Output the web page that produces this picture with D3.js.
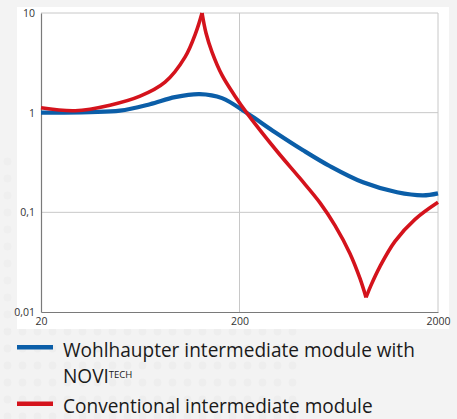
<!DOCTYPE html>
<html>
<head>
<meta charset="utf-8">
<script src="https://cdn.jsdelivr.net/npm/d3@7"></script>
<style>
html,body{margin:0;padding:0;background:#f3f3f3;}
svg{display:block;}
</style>
</head>
<body>
<svg id="chart" width="457" height="419"></svg>
<script>
// ---- data ----
const xTicks = [20, 200, 2000];
const xTickLabels = ["20", "200", "2000"];
const yTicks = [0.01, 0.1, 1, 10];
const yTickLabels = ["0,01", "0,1", "1", "10"];

const blueFreq = [20, 35.3, 50, 70.8, 94.6, 126, 163.3, 218, 302, 418, 572, 838, 1244, 1680, 2000];
const blueVal  = [1.0, 1.012, 1.047, 1.217, 1.431, 1.534, 1.399, 0.99, 0.637, 0.42, 0.29, 0.200, 0.159, 0.148, 0.155];

const redFreq = [20, 29.7, 44.5, 63.1, 84.3, 106.3, 120.8, 129.5,
                 135.6, 145.4, 163.3, 189.9, 218, 309, 403, 509, 605, 720, 809, 868,
                 919, 1021, 1214, 1532, 2000];
const redVal  = [1.12, 1.047, 1.19, 1.465, 2.025, 3.61, 6.44, 10,
                 6.30, 4.06, 2.38, 1.465, 0.99, 0.41, 0.22, 0.1246, 0.074, 0.0387, 0.0217, 0.014,
                 0.0185, 0.0287, 0.0511, 0.085, 0.126];

const seriesNames = ["Wohlhaupter intermediate module with", "Conventional intermediate module"];
const seriesColors = ["#0b5ea8", "#d4131c"];

// ---- drawing ----
const svg = d3.select("#chart");
const W = 457, H = 419;

// faint dotted background pattern
const defs = svg.append("defs");
const pat = defs.append("pattern").attr("id", "dots").attr("width", 15).attr("height", 17)
  .attr("patternUnits", "userSpaceOnUse");
pat.append("circle").attr("cx", 7.5).attr("cy", 8.5).attr("r", 4).attr("fill", "#ebebeb");
svg.append("rect").attr("width", W).attr("height", H).attr("fill", "#f3f3f3");
svg.append("rect").attr("x", 0).attr("y", 329).attr("width", 300).attr("height", 90).attr("fill", "url(#dots)").attr("opacity", 0.6);
svg.append("rect").attr("x", 0).attr("y", 150).attr("width", 17).attr("height", 180).attr("fill", "url(#dots)").attr("opacity", 0.5);

// white panel
svg.append("rect").attr("x", 17).attr("y", 7).attr("width", 432).attr("height", 322).attr("fill", "#ffffff");

const x = d3.scaleLog().domain([20, 2000]).range([41, 438]);
const y = d3.scaleLog().domain([0.01, 10]).range([312, 13]);

// grid lines
const grid = svg.append("g");
grid.selectAll("line.h").data(yTicks.filter(v => v > 0.01)).join("line")
  .attr("x1", x(20)).attr("x2", x(2000))
  .attr("y1", d => y(d)).attr("y2", d => y(d))
  .attr("stroke", "#c8c8c8").attr("stroke-width", 1);
grid.selectAll("line.v").data(xTicks.filter(v => v > 20)).join("line")
  .attr("y1", y(10)).attr("y2", y(0.01))
  .attr("x1", d => x(d)).attr("x2", d => x(d))
  .attr("stroke", "#c8c8c8").attr("stroke-width", 1);

// axes
const yAxis = d3.axisLeft(y).tickValues(yTicks).tickFormat((d, i) => yTickLabels[i]).tickSize(0).tickPadding(6);
const gy = svg.append("g").attr("transform", `translate(${x(20)},0)`).call(yAxis);
const xAxis = d3.axisBottom(x).tickValues(xTicks).tickFormat((d, i) => xTickLabels[i]).tickSize(0).tickPadding(4);
const gx = svg.append("g").attr("transform", `translate(0,${y(0.01)})`).call(xAxis);
[gx, gy].forEach(g => {
  g.select(".domain").attr("stroke", "#7a7a7a").attr("stroke-width", 1.2);
  g.selectAll("text").attr("fill", "#333").style("font-family", "'Open Sans', sans-serif").style("font-size", "10.5px");
});
gx.selectAll(".tick text").attr("dy", "0.9em");

// series
function drawSeries(fr, vals, color, width) {
  const pts = fr.map((f, i) => [f, vals[i]]);
  // split at sharp extrema (cusps)
  const cuts = [0];
  for (let i = 1; i < pts.length - 1; i++) {
    const a = pts[i - 1][1], b = pts[i][1], c = pts[i + 1][1];
    if ((b > a && b > c && b >= 5) || (b < a && b < c && b < 0.05)) cuts.push(i);
  }
  cuts.push(pts.length - 1);
  const line = d3.line().x(d => x(d[0])).y(d => y(d[1])).curve(d3.curveCatmullRom.alpha(0.5));
  for (let k = 0; k < cuts.length - 1; k++) {
    svg.append("path").datum(pts.slice(cuts[k], cuts[k + 1] + 1))
      .attr("d", line).attr("fill", "none").attr("stroke", color)
      .attr("stroke-width", width).attr("stroke-linejoin", "miter").attr("stroke-linecap", "butt");
  }
}
drawSeries(blueFreq, blueVal, seriesColors[0], 4.2);
drawSeries(redFreq, redVal, seriesColors[1], 3.6);

// legend
const lg = svg.append("g").style("font-family", "'Open Sans', sans-serif").attr("fill", "#1a1a1a");
lg.append("rect").attr("x", 17).attr("y", 345).attr("width", 36).attr("height", 4.5).attr("fill", seriesColors[0]);
lg.append("rect").attr("x", 17).attr("y", 401.5).attr("width", 36).attr("height", 4.5).attr("fill", seriesColors[1]);
const t1 = lg.append("text").attr("x", 63).attr("y", 357).style("font-size", "17px").text(seriesNames[0]);
const w1 = t1.node().getComputedTextLength();
const fs = 17 * 352 / w1;
t1.style("font-size", fs + "px");
const t2 = lg.append("text").attr("x", 63).attr("y", 383).style("font-size", fs + "px");
t2.append("tspan").text("NOVI");
t2.append("tspan").attr("dy", -5).style("font-size", (fs * 0.5) + "px").text("TECH");
lg.append("text").attr("x", 63).attr("y", 413).style("font-size", fs + "px").text(seriesNames[1]);
</script>
</body>
</html>
